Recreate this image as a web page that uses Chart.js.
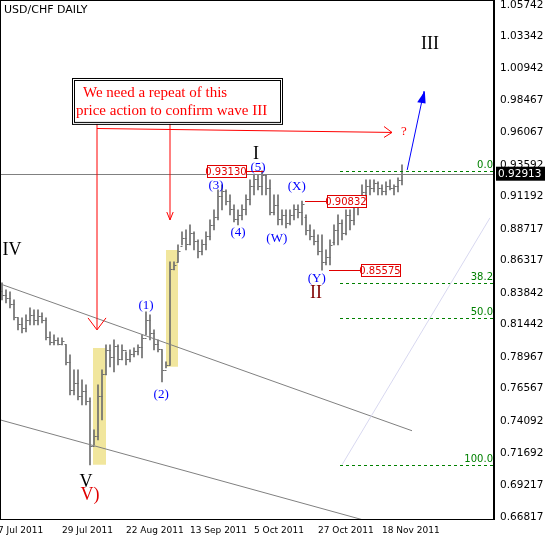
<!DOCTYPE html>
<html>
<head>
<meta charset="utf-8">
<script src="https://cdn.jsdelivr.net/npm/chart.js@4"></script>
<style>
  body { margin: 0; background: #fff; }
  #wrap { width: 551px; height: 539px; }
</style>
</head>
<body>
<div id="wrap"><canvas id="c"></canvas></div>
<script>
// USD/CHF daily bars
const highs = [.8461,.8408,.8393,.8332,.8195,.8195,.8218,.8271,.8256,.8256,.8233,.8195,.8089,.8066,.8043,.8043,
  .7990,.7914,.7800,.7800,.7724,.7686,.7587,.7344,.7686,.7800,.7990,.7990,.8028,.7990,.7990,.7937,.7952,.7967,.7990,
  .8066,.8241,.8218,.8104,.8028,.7952,.7861,.8621,.8621,.8750,.8849,.8864,.8902,.8849,.8788,.8788,.8849,.8940,.9016,
  .9168,.9206,.9168,.9130,.9054,.9016,.9054,.9130,.9244,.9282,.9282,.9313,.9282,.9244,.9130,.9130,.9016,.9016,.9016,
  .9054,.9054,.9083,.8978,.8902,.8864,.8826,.8826,.8712,.8788,.8902,.8978,.8940,.9016,.9016,.9092,.9107,.9206,.9244,
  .9244,.9244,.9229,.9206,.9229,.9244,.9206,.9259,.9358];
const lows = [.8332,.8309,.8271,.8180,.8104,.8081,.8089,.8142,.8142,.8142,.8157,.8028,.7990,.7990,.7990,.7990,
  .7838,.7610,.7610,.7572,.7534,.7534,.7078,.7230,.7268,.7420,.7762,.7823,.7785,.7838,.7876,.7838,.7861,.7899,.7914,
  .7891,.8066,.8028,.7952,.7937,.7709,.7815,.7838,.8560,.8621,.8750,.8712,.8750,.8712,.8651,.8674,.8712,.8788,.8864,
  .8940,.9016,.9054,.8978,.8925,.8902,.8940,.8978,.9054,.9130,.9168,.9130,.9130,.8978,.8978,.8902,.8902,.8879,.8902,
  .8940,.8955,.8902,.8826,.8788,.8750,.8674,.8557,.8598,.8598,.8750,.8750,.8788,.8826,.8864,.8902,.8978,.9054,.9092,
  .9130,.9153,.9130,.9130,.9130,.9168,.9130,.9153,.9206];
const opens = [.840,.837,.835,.830,.820,.815,.812,.818,.822,.818,.821,.818,.805,.801,.803,.800,
  .800,.786,.765,.770,.760,.764,.756,.722,.730,.760,.777,.795,.790,.798,.788,.795,.788,.792,.794,
  .797,.804,.818,.808,.800,.796,.780,.784,.857,.862,.874,.880,.876,.884,.878,.870,.876,.882,.890,
  .896,.912,.916,.908,.902,.895,.898,.902,.910,.920,.925,.920,.928,.918,.900,.905,.895,.898,.892,
  .898,.902,.900,.896,.886,.882,.878,.870,.862,.866,.877,.886,.892,.884,.898,.894,.905,.908,.915,
  .920,.918,.922,.918,.916,.920,.918,.920,.924];
const closes = [.837,.835,.830,.820,.815,.812,.818,.822,.818,.821,.818,.805,.801,.803,.800,.802,
  .786,.765,.770,.760,.764,.756,.722,.730,.760,.777,.795,.790,.798,.788,.795,.788,.792,.794,.797,
  .804,.818,.808,.800,.796,.780,.784,.857,.860,.870,.880,.876,.884,.878,.870,.876,.882,.890,.896,
  .912,.916,.908,.902,.895,.898,.902,.910,.920,.925,.920,.928,.918,.900,.905,.895,.898,.892,.898,
  .902,.900,.906,.886,.882,.878,.870,.862,.866,.875,.886,.892,.884,.898,.894,.905,.908,.915,.920,
  .918,.922,.918,.916,.920,.918,.920,.924,.92913];

const priceTicks = [1.05742,1.03342,1.00942,0.98467,0.96067,0.93592,0.91192,0.88717,0.86317,0.83842,
  0.81442,0.78967,0.76567,0.74092,0.71692,0.69217,0.66817];
const dateTickIdx = [-1, 15, 31, 47, 63, 79, 95];
const dateTickLabels = ['7 Jul 2011','29 Jul 2011','22 Aug 2011','13 Sep 2011','5 Oct 2011','27 Oct 2011','18 Nov 2011'];

const lastPrice = 0.92913;
const fibHigh = 0.9313, fibLow = 0.7078;
const fibLevels = [0, 38.2, 50, 100];

const bars = highs.map((h, i) => ({ x: i, y: [lows[i], h] }));

const annot = {
  id: 'annot',
  afterDatasetsDraw(chart) {
    const ctx = chart.ctx, xs = chart.scales.x, ys = chart.scales.y, a = chart.chartArea;
    const X = v => xs.getPixelForValue(v), Y = v => ys.getPixelForValue(v);
    ctx.save();
    ctx.beginPath(); ctx.rect(a.left, a.top, a.right - a.left, a.bottom - a.top); ctx.clip();
    // open / close ticks
    ctx.strokeStyle = '#6e6e6e'; ctx.lineWidth = 1;
    opens.forEach((o, i) => {
      const x = Math.round(X(i)) + 0.5;
      ctx.beginPath();
      ctx.moveTo(x - 2, Math.round(Y(o)) + 0.5); ctx.lineTo(x, Math.round(Y(o)) + 0.5);
      ctx.moveTo(x, Math.round(Y(closes[i])) + 0.5); ctx.lineTo(x + 2, Math.round(Y(closes[i])) + 0.5);
      ctx.stroke();
    });
    // last price line
    ctx.strokeStyle = '#808080';
    ctx.beginPath(); ctx.moveTo(a.left, Math.round(Y(lastPrice)) + 0.5); ctx.lineTo(a.right, Math.round(Y(lastPrice)) + 0.5); ctx.stroke();
    // fibo
    ctx.strokeStyle = '#008000'; ctx.setLineDash([3, 3]);
    ctx.fillStyle = '#008000'; ctx.font = '10px "DejaVu Sans"'; ctx.textAlign = 'right'; ctx.textBaseline = 'bottom';
    fibLevels.forEach(l => {
      const y = Math.round(Y(fibHigh - (fibHigh - fibLow) * l / 100)) + 0.5;
      ctx.beginPath(); ctx.moveTo(X(84.5), y); ctx.lineTo(a.right, y); ctx.stroke();
      ctx.fillText(l.toFixed(1), a.right - 1, y - 1);
    });
    ctx.setLineDash([]);
    // faint fibo diagonal
    ctx.strokeStyle = '#d8d8f0';
    ctx.beginPath(); ctx.moveTo(X(85), Y(fibLow)); ctx.lineTo(X(122), Y(0.8956)); ctx.stroke();
    // price boxes
    ctx.font = '10px "DejaVu Sans"'; ctx.textAlign = 'center'; ctx.textBaseline = 'middle';
    [[66, 0.9313, 56, '0.93130'], [75, 0.9083, 86, '0.90832'], [81, 0.85575, 94.5, '0.85575']].forEach(([i0, p, bx, t]) => {
      const y = Math.round(Y(p)) + 0.5, cx = X(bx), w = 39;
      ctx.strokeStyle = '#e00000'; ctx.fillStyle = '#fff';
      ctx.beginPath();
      if (bx < i0) { ctx.moveTo(cx + w / 2, y); ctx.lineTo(X(i0) - 2, y); }
      else { ctx.moveTo(X(i0) + 3, y); ctx.lineTo(cx - w / 2, y); }
      ctx.stroke();
      ctx.fillRect(cx - w / 2, y - 6, w, 12); ctx.strokeRect(Math.round(cx - w / 2) + 0.5, y - 6, w, 12);
      ctx.fillStyle = '#e00000'; ctx.fillText(t, cx, y + 0.5);
    });
    // labels
    const txt = (s, i, p, color, font) => { ctx.fillStyle = color; ctx.font = font; ctx.fillText(s, X(i), Y(p)); };
    const roman = '18px "Liberation Serif"', wave = '13px "Liberation Serif"';
    txt('IV', 2.5, 0.8710, '#000', roman);
    txt('I', 63.5, 0.9440, '#000', roman);
    txt('II', 78.5, 0.8386, '#800000', roman);
    txt('III', 107, 1.0278, '#000', roman);
    txt('V', 21, 0.6949, '#000', roman);
    txt('V)', 22, 0.6843, '#e00000', roman);
    [['(1)', 36, 0.8287], ['(2)', 39.8, 0.7610], ['(3)', 53.5, 0.9199], ['(4)', 59, 0.8841],
     ['(5)', 64, 0.9336], ['(W)', 68.7, 0.8796], ['(X)', 73.7, 0.9191], ['(Y)', 78.7, 0.8491]]
      .forEach(([s, i, p]) => txt(s, i, p, '#0000ff', wave));
    // red arrows
    ctx.strokeStyle = '#ff0000'; ctx.lineWidth = 1;
    ctx.beginPath();
    ctx.moveTo(X(23.75), Y(0.9673)); ctx.lineTo(X(23.75), Y(0.8104));
    ctx.moveTo(X(21.5), Y(0.8195)); ctx.lineTo(X(23.75), Y(0.8104)); ctx.lineTo(X(26), Y(0.8195));
    ctx.moveTo(X(42), Y(0.9673)); ctx.lineTo(X(42), Y(0.8940));
    ctx.moveTo(X(41.2), Y(0.9000)); ctx.lineTo(X(42), Y(0.8940)); ctx.lineTo(X(42.8), Y(0.9000));
    ctx.moveTo(X(23.75), Y(0.9635)); ctx.lineTo(X(97.5), Y(0.9605));
    ctx.moveTo(X(95.5), Y(0.9650)); ctx.lineTo(X(97.5), Y(0.9605)); ctx.lineTo(X(95.5), Y(0.9567));
    ctx.stroke();
    ctx.fillStyle = '#ff0000'; ctx.font = '13px "Liberation Serif"';
    ctx.fillText('?', X(100.5), Y(0.9612));
    // blue arrow
    ctx.strokeStyle = '#0000ff'; ctx.fillStyle = '#0000ff';
    ctx.beginPath(); ctx.moveTo(X(101.3), Y(0.9320)); ctx.lineTo(X(105.5), Y(0.9920)); ctx.stroke();
    ctx.beginPath(); ctx.moveTo(X(105.7), Y(0.9920)); ctx.lineTo(X(103.8), Y(0.9835)); ctx.lineTo(X(105.9), Y(0.9825)); ctx.fill();
    // text box
    const bx0 = X(17.5), by0 = Y(1.0019), bx1 = X(70), by1 = Y(0.9670);
    ctx.fillStyle = '#fff'; ctx.fillRect(bx0, by0, bx1 - bx0, by1 - by0);
    ctx.strokeStyle = '#000'; ctx.strokeRect(bx0 + 0.5, by0 + 0.5, bx1 - bx0, by1 - by0);
    ctx.strokeRect(bx0 + 2.5, by0 + 2.5, bx1 - bx0 - 4, by1 - by0 - 4);
    ctx.fillStyle = '#ff0000'; ctx.font = '15px "Liberation Serif"'; ctx.textAlign = 'left';
    ctx.fillText('We need a repeat of this', bx0 + 11, by0 + 15);
    ctx.fillText('price action to confirm wave III', bx0 + 4, by0 + 33);
    ctx.restore();
    // title
    ctx.save();
    ctx.fillStyle = '#000'; ctx.font = '11px "DejaVu Sans"'; ctx.textBaseline = 'middle';
    ctx.fillText('USD/CHF DAILY', a.left + 4, a.top + 10);
    // frame
    ctx.strokeStyle = '#000';
    ctx.strokeRect(a.left + 0.5, a.top + 0.5, a.right - a.left - 1, a.bottom - a.top);
    // last price tag
    const yl = Y(lastPrice);
    ctx.fillStyle = '#000'; ctx.fillRect(a.right + 2, yl - 7, 49, 14);
    ctx.fillStyle = '#fff'; ctx.font = '10.5px "DejaVu Sans"'; ctx.textAlign = 'left';
    ctx.fillText(lastPrice.toFixed(5), a.right + 4, yl + 0.5);
    ctx.restore();
  }
};

new Chart(document.getElementById('c'), {
  type: 'bar',
  data: {
    datasets: [
      { label: 'USD/CHF', data: bars, backgroundColor: '#6e6e6e', barThickness: 1, order: 3 },
      { type: 'line', label: 'upper channel', data: [{ x: -0.5, y: 0.8454 }, { x: 102.5, y: 0.7337 }],
        borderColor: '#808080', borderWidth: 1, pointRadius: 0, order: 1 },
      { type: 'line', label: 'lower channel', data: [{ x: -0.5, y: 0.7420 }, { x: 102, y: 0.6561 }],
        borderColor: '#808080', borderWidth: 1, pointRadius: 0, order: 1 },
      { type: 'line', label: 'box1', data: [{ x: 22.75, y: 0.7966 }, { x: 26, y: 0.7966 }],
        fill: { value: 0.7078 }, backgroundColor: 'rgba(238,226,140,0.85)', borderWidth: 0, pointRadius: 0, order: 4 },
      { type: 'line', label: 'box2', data: [{ x: 41, y: 0.8712 }, { x: 44, y: 0.8712 }],
        fill: { value: 0.7823 }, backgroundColor: 'rgba(238,226,140,0.85)', borderWidth: 0, pointRadius: 0, order: 4 }
    ]
  },
  options: {
    responsive: true,
    maintainAspectRatio: false,
    animation: false,
    layout: { padding: 0 },
    plugins: { legend: { display: false }, tooltip: { enabled: false } },
    scales: {
      x: {
        type: 'linear', min: -0.5, max: 123, offset: false,
        grid: { display: false, drawTicks: true, tickLength: 3, tickColor: '#000' },
        border: { color: '#000' },
        afterBuildTicks: s => { s.ticks = dateTickIdx.map(v => ({ value: v })); },
        afterFit: s => { s.height = 20; s.paddingLeft = 0; s.paddingRight = 0; },
        ticks: { autoSkip: false, maxRotation: 0, align: 'start', padding: 3, color: '#000',
          font: { family: 'DejaVu Sans', size: 9 },
          callback: v => dateTickLabels[dateTickIdx.indexOf(v)] }
      },
      y: {
        position: 'right', min: 0.6666, max: 1.0612,
        grid: { display: false, drawTicks: true, tickLength: 3, tickColor: '#000' },
        border: { color: '#000' },
        afterBuildTicks: s => { s.ticks = priceTicks.map(v => ({ value: v })); },
        afterFit: s => { s.width = 57; s.paddingTop = 0; s.paddingBottom = 0; },
        ticks: { autoSkip: false, padding: 3, color: '#000', font: { family: 'DejaVu Sans', size: 10.5 },
          callback: v => v.toFixed(5) }
      }
    }
  },
  plugins: [annot]
});
</script>
</body>
</html>
